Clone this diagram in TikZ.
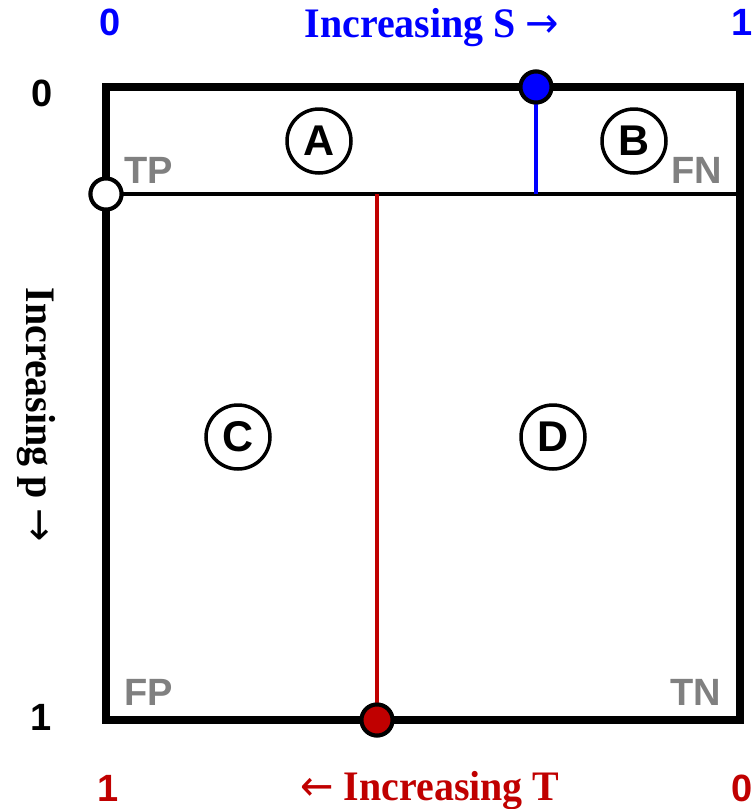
\documentclass[tikz,border=0pt]{standalone}
\usepackage{fontspec}
\setmainfont{Liberation Serif}
\setsansfont{Liberation Sans}
\newfontfamily\arrowfont{DejaVu Sans}
\definecolor{myred}{RGB}{192,0,0}
\definecolor{myblue}{RGB}{0,0,255}
\definecolor{mygray}{RGB}{128,128,128}
\newcommand{\axtext}[1]{\scalebox{0.95}[1]{#1}}
\begin{document}
\begin{tikzpicture}[x=1pt,y=-1pt,
  num/.style={font=\sffamily\bfseries\fontsize{38}{38}\selectfont, inner sep=0pt, anchor=base},
  axis/.style={font=\rmfamily\bfseries\fontsize{42}{42}\selectfont, inner sep=0pt},
  corner/.style={font=\sffamily\bfseries\fontsize{38}{38}\selectfont, text=mygray, inner sep=0pt, anchor=base},
  region/.style={circle, draw=black, line width=3.5pt, minimum size=64pt, inner sep=0pt, font=\sffamily\bfseries\fontsize{43}{43}\selectfont},
  dot/.style={circle, draw=black, line width=4pt, minimum size=31pt, inner sep=0pt}]
\useasboundingbox (0,0) rectangle (753,809);
\coordinate (tl) at (106,87);
\coordinate (tr) at (740,87);
\coordinate (bl) at (106,720);
\coordinate (br) at (740,720);
\coordinate (mr) at (740,194);
\coordinate (sb) at (536,194);
\coordinate (tt) at (377,194);
\node[dot, fill=white] (pdot) at (106,194) {};
\node[dot, fill=myblue] (sdot) at (536,87) {};
\node[dot, fill=myred] (tdot) at (377,720) {};
\draw[line width=4pt] (pdot.center) -- (mr);
\draw[myblue, line width=3.5pt] (sdot.center) -- (sb);
\draw[myred, line width=4pt] (tt) -- (tdot.center);
\draw[line width=8pt, line join=miter] (tl) -- (tr) -- (br) -- (bl) -- cycle;
\node[dot, fill=white] at (pdot) {};
\node[dot, fill=myblue] at (sdot) {};
\node[dot, fill=myred] at (tdot) {};
% regions
\node[region] (A) at (319,141) {A};
\node[region] (B) at (634,141) {B};
\node[region] (C) at (238,437) {C};
\node[region] (D) at (553,437) {D};
% corners
\node[corner] (TP) at (149,183) {TP};
\node[corner] (FN) at (697,183) {FN};
\node[corner] (FP) at (149,705) {FP};
\node[corner] (TN) at (696,705) {TN};
% top axis
\node[num, text=myblue] (s0) at (110,35) {0};
\node[num, text=myblue] (s1) at (742,35) {1};
\node[axis, text=myblue, anchor=base] (slab) at (432,37) {\axtext{Increasing S {\arrowfont\mdseries →}}};
% left axis
\node[num] (p0) at (42,106) {0};
\node[num] (p1) at (41,730) {1};
\node[axis, rotate=-90] (plab) at (36,415) {\axtext{Increasing p {\arrowfont\mdseries →}}};
% bottom axis
\node[num, text=myred] (t1) at (108,801) {1};
\node[num, text=myred] (t0) at (742,801) {0};
\node[axis, text=myred, anchor=base] (tlab) at (430,800) {\axtext{{\arrowfont\mdseries ←} Increasing T}};
\end{tikzpicture}
\end{document}
